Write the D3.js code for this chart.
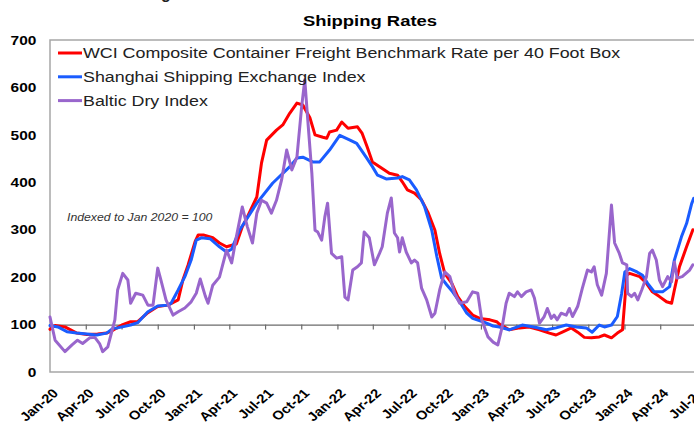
<!DOCTYPE html>
<html><head><meta charset="utf-8">
<script src="https://cdn.jsdelivr.net/npm/d3@7"></script>
<style>
html,body{margin:0;padding:0;background:#fff;overflow:hidden}
svg{display:block;font-family:"Liberation Sans",Arial,sans-serif}
</style></head><body>
<svg id="chart" width="694" height="428"></svg>
<script>
const chartTitle = "Shipping Rates";
const seriesNames = ["WCI Composite Container Freight Benchmark Rate per 40 Foot Box", "Shanghai Shipping Exchange Index", "Baltic Dry Index"];
const seriesColors = ["#ff0000", "#1a5cff", "#9966cc"];
const yTicks = [0, 100, 200, 300, 400, 500, 600, 700];
const xStart = "2020-01-01", xEnd = "2024-07-01";
const noteText = "Indexed to Jan 2020 = 100";

const wci = [["2020-01-01",90],["2020-01-14",98],["2020-02-08",95],["2020-03-09",82],["2020-04-04",79],["2020-05-01",80],["2020-05-24",82],["2020-06-09",88],["2020-07-04",100],["2020-07-24",106],["2020-08-11",106],["2020-09-06",125],["2020-10-01",138],["2020-10-27",141],["2020-11-22",152],["2020-12-04",194],["2020-12-17",225],["2021-01-04",275],["2021-01-12",289],["2021-01-25",289],["2021-02-18",283],["2021-03-07",272],["2021-03-25",264],["2021-04-19",270],["2021-05-04",306],["2021-05-17",327],["2021-06-10",369],["2021-06-22",441],["2021-07-05",489],["2021-07-30",510],["2021-08-15",521],["2021-09-02",546],["2021-09-20",567],["2021-10-05",563],["2021-10-23",536],["2021-11-05",500],["2021-11-25",495],["2021-12-05",493],["2021-12-12",506],["2021-12-30",510],["2022-01-12",527],["2022-01-28",514],["2022-02-21",517],["2022-03-05",503],["2022-03-18",474],["2022-03-31",443],["2022-04-23",430],["2022-05-13",419],["2022-06-03",415],["2022-06-15",401],["2022-06-28",384],["2022-07-16",377],["2022-08-03",363],["2022-08-19",337],["2022-09-06",299],["2022-09-18",250],["2022-10-01",208],["2022-10-19",187],["2022-11-03",159],["2022-11-21",138],["2022-12-11",120],["2022-12-29",113],["2023-01-24",110],["2023-02-10",106],["2023-02-17",101],["2023-03-14",89],["2023-04-09",93],["2023-05-04",95],["2023-05-30",89],["2023-06-24",82],["2023-07-11",78],["2023-07-27",84],["2023-08-19",93],["2023-09-04",84],["2023-09-21",73],["2023-10-09",72],["2023-10-29",74],["2023-11-11",78],["2023-11-29",72],["2023-12-14",82],["2023-12-27",89],["2024-01-07",204],["2024-01-14",208],["2024-02-09",201],["2024-02-26",187],["2024-03-12",169],["2024-03-30",159],["2024-04-17",148],["2024-04-30",145],["2024-05-07",173],["2024-05-20",222],["2024-06-07",264],["2024-06-23",300]];

const scfi = [["2020-01-01",98],["2020-01-21",95],["2020-02-13",85],["2020-03-09",82],["2020-04-04",80],["2020-04-29",78],["2020-05-24",82],["2020-06-09",92],["2020-06-21",93],["2020-07-24",99],["2020-08-11",104],["2020-09-06",127],["2020-10-01",139],["2020-10-27",141],["2020-11-04",145],["2020-11-22",173],["2020-12-09",201],["2020-12-25",236],["2021-01-07",278],["2021-01-20",283],["2021-02-11",281],["2021-03-07",264],["2021-03-25",253],["2021-04-07",259],["2021-04-27",299],["2021-06-10",356],["2021-07-20",398],["2021-09-02",433],["2021-09-20",451],["2021-10-05",453],["2021-10-30",443],["2021-11-17",443],["2021-12-12",468],["2022-01-07",499],["2022-02-02",489],["2022-02-19",482],["2022-03-15",453],["2022-03-31",433],["2022-04-13",415],["2022-05-05",407],["2022-06-03",409],["2022-06-15",412],["2022-07-03",405],["2022-07-21",384],["2022-08-11",348],["2022-08-29",299],["2022-09-11",243],["2022-09-23",198],["2022-10-06",184],["2022-10-21",169],["2022-11-08",148],["2022-11-26",124],["2022-12-11",113],["2023-01-06",106],["2023-02-01",97],["2023-02-17",95],["2023-03-14",89],["2023-04-16",99],["2023-05-22",94],["2023-06-16",89],["2023-07-11",93],["2023-08-06",99],["2023-09-01",95],["2023-09-26",93],["2023-10-11",84],["2023-10-29",99],["2023-11-11",95],["2023-11-29",99],["2023-12-14",117],["2023-12-25",166],["2024-01-02",211],["2024-01-14",218],["2024-02-02",211],["2024-02-16",204],["2024-02-29",187],["2024-03-17",169],["2024-04-07",169],["2024-04-25",180],["2024-05-07",236],["2024-05-25",285],["2024-06-07",313],["2024-06-20",355],["2024-06-25",366]];

const bdi = [["2020-01-01",116],["2020-01-14",67],["2020-02-08",43],["2020-02-26",57],["2020-03-11",67],["2020-03-24",60],["2020-04-11",72],["2020-04-24",73],["2020-05-06",60],["2020-05-14",43],["2020-05-27",53],["2020-06-14",110],["2020-06-21",173],["2020-07-04",208],["2020-07-17",194],["2020-07-24",145],["2020-08-06",166],["2020-08-24",162],["2020-09-06",141],["2020-09-19",141],["2020-10-01",219],["2020-10-09",194],["2020-10-22",152],["2020-11-09",120],["2020-11-22",127],["2020-12-09",135],["2020-12-25",148],["2021-01-07",166],["2021-01-17",196],["2021-01-30",160],["2021-02-06",145],["2021-02-18",183],["2021-03-07",200],["2021-03-25",257],["2021-04-07",230],["2021-04-19",285],["2021-05-04",348],["2021-05-17",306],["2021-05-30",272],["2021-06-10",335],["2021-06-22",362],["2021-07-05",356],["2021-07-17",335],["2021-07-30",362],["2021-08-12",405],["2021-08-25",468],["2021-09-07",426],["2021-09-20",453],["2021-10-02",559],["2021-10-10",616],["2021-10-17",538],["2021-10-28",419],["2021-11-05",299],["2021-11-12",295],["2021-11-22",278],["2021-11-30",327],["2021-12-07",356],["2021-12-17",250],["2021-12-30",240],["2022-01-12",243],["2022-01-20",158],["2022-01-28",152],["2022-02-09",215],["2022-02-21",222],["2022-03-03",230],["2022-03-10",295],["2022-03-23",283],["2022-04-05",226],["2022-04-18",250],["2022-04-25",264],["2022-05-08",335],["2022-05-18",367],["2022-05-26",293],["2022-06-03",283],["2022-06-08",253],["2022-06-15",283],["2022-06-25",253],["2022-07-08",230],["2022-07-16",236],["2022-07-24",230],["2022-08-03",177],["2022-08-16",152],["2022-08-29",116],["2022-09-06",124],["2022-09-18",173],["2022-10-01",211],["2022-10-14",201],["2022-10-26",166],["2022-11-08",145],["2022-11-26",148],["2022-12-11",169],["2022-12-24",166],["2023-01-03",110],["2023-01-19",74],["2023-02-01",63],["2023-02-13",57],["2023-02-24",95],["2023-03-06",145],["2023-03-14",166],["2023-03-27",159],["2023-04-04",169],["2023-04-14",159],["2023-04-26",169],["2023-05-09",173],["2023-05-17",156],["2023-05-30",103],["2023-06-11",117],["2023-06-19",134],["2023-06-29",113],["2023-07-06",120],["2023-07-14",110],["2023-07-24",124],["2023-08-06",120],["2023-08-14",134],["2023-08-22",117],["2023-09-04",138],["2023-09-16",177],["2023-09-29",215],["2023-10-09",211],["2023-10-16",222],["2023-10-24",184],["2023-11-04",162],["2023-11-16",208],["2023-11-29",352],["2023-12-07",272],["2023-12-19",250],["2023-12-27",230],["2024-01-07",226],["2024-01-09",166],["2024-01-19",159],["2024-01-27",166],["2024-02-04",152],["2024-02-14",173],["2024-02-26",201],["2024-03-05",250],["2024-03-12",257],["2024-03-22",236],["2024-03-30",194],["2024-04-07",180],["2024-04-20",201],["2024-04-30",190],["2024-05-07",232],["2024-05-14",198],["2024-05-27",201],["2024-06-15",215],["2024-06-23",226]];

const parse = d3.timeParse("%Y-%m-%d");
const allSeries = [wci, scfi, bdi].map(s => s.map(([d, v]) => ({date: parse(d), value: v})));

const SX = 1.19; // horizontal stretch of the original picture
const svg = d3.select("#chart");
const x = d3.scaleTime().domain([parse(xStart), parse(xEnd)]).range([50, 696]);
const y = d3.scaleLinear().domain([0, 700]).range([372, 40]);
const xTickDates = d3.timeMonth.every(3).range(parse(xStart), d3.timeDay.offset(parse(xEnd), 1));

// cut-off fragment of text above the chart
svg.append("text").attr("x", 161).attr("y", -1).attr("font-size", 16).attr("font-weight", "bold").attr("fill", "#222").text("g");

// title
svg.append("text").attr("transform", `translate(370,26) scale(${SX},1)`).attr("text-anchor", "middle")
  .attr("font-size", 15.5).attr("font-weight", "bold").attr("fill", "#000").text(chartTitle);

// frame
svg.append("rect").attr("x", 50).attr("y", 40).attr("width", 700).attr("height", 332)
  .attr("fill", "none").attr("stroke", "#a6a6a6").attr("stroke-width", 1.5);

// y axis labels
const gy = svg.append("g").attr("transform", "translate(50,0)")
  .call(d3.axisLeft(y).tickValues(yTicks).tickSize(0).tickPadding(11.5));
gy.select(".domain").remove();
gy.selectAll("text").attr("font-size", 13).attr("font-weight", "bold").attr("fill", "#000")
  .attr("font-family", "'Liberation Sans', Arial, sans-serif")
  .attr("transform", `scale(${SX},1)`);

// x axis labels at bottom
const gx = svg.append("g").attr("transform", "translate(0,372)")
  .call(d3.axisBottom(x).tickValues(xTickDates).tickFormat(d3.timeFormat("%b-%y")).tickSize(0));
gx.select(".domain").remove();
gx.selectAll("text").attr("x", 0).attr("y", 0).attr("dy", "0.35em")
  .attr("text-anchor", "end").attr("font-size", 12.5).attr("font-weight", "bold").attr("fill", "#000")
  .attr("font-family", "'Liberation Sans', Arial, sans-serif")
  .attr("transform", `translate(5,19) scale(${SX},1) rotate(-45)`);

// category axis crossing at 100
const g100 = svg.append("g").attr("transform", `translate(0,${y(100)})`)
  .call(d3.axisBottom(x).tickValues(xTickDates).tickFormat("").tickSize(5).tickSizeOuter(0));
g100.select(".domain").attr("stroke", "#6b6b6b").attr("stroke-width", 1.2);
g100.selectAll(".tick line").attr("stroke", "#6b6b6b").attr("stroke-width", 1.2);

// note
svg.append("text").attr("transform", `translate(67,221) scale(${SX},1)`).attr("font-size", 10.3)
  .attr("font-style", "italic").attr("fill", "#333").text(noteText);

// lines
const line = d3.line().x(d => x(d.date)).y(d => y(d.value));
allSeries.forEach((s, i) => {
  svg.append("path").datum(s).attr("d", line).attr("fill", "none")
    .attr("stroke", seriesColors[i]).attr("stroke-width", 3)
    .attr("stroke-linejoin", "round").attr("stroke-linecap", "round");
});

// legend
seriesNames.forEach((name, i) => {
  const ly = 53 + i * 23.8;
  svg.append("line").attr("x1", 58).attr("x2", 82).attr("y1", ly).attr("y2", ly)
    .attr("stroke", seriesColors[i]).attr("stroke-width", 3);
  svg.append("text").attr("transform", `translate(83,${ly + 5.4}) scale(${SX},1)`)
    .attr("font-size", 15).attr("fill", "#222").text(name);
});
</script>
</body></html>
